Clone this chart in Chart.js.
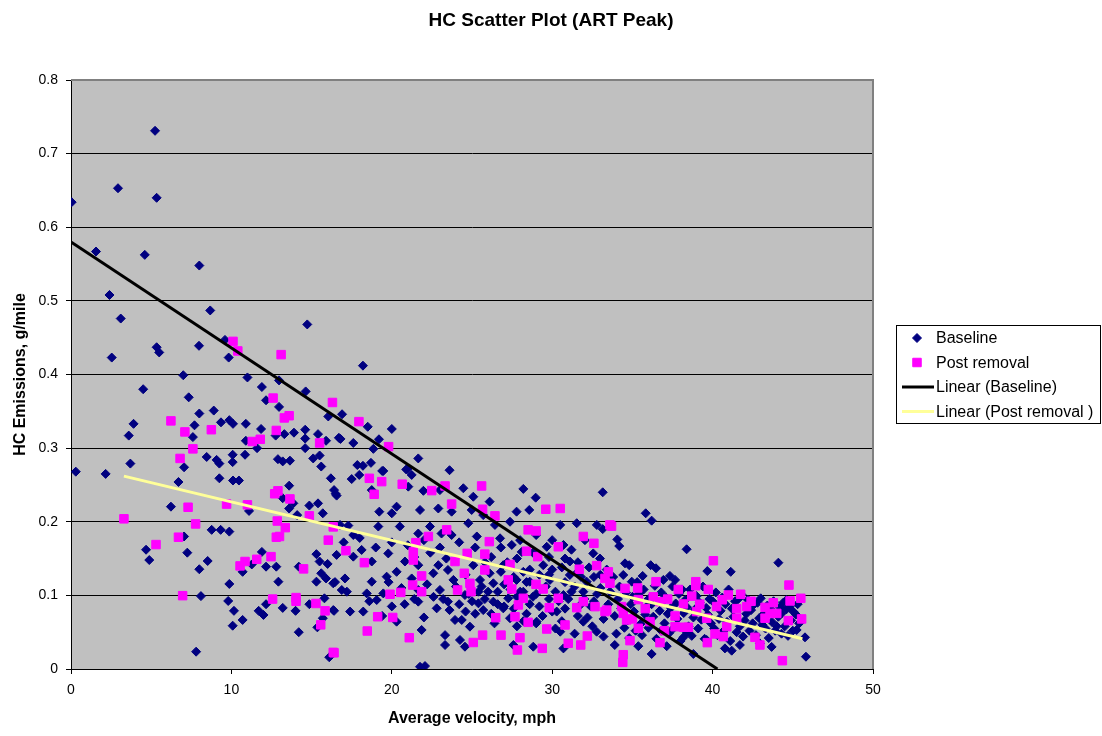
<!DOCTYPE html>
<html>
<head>
<meta charset="utf-8">
<title>HC Scatter Plot (ART Peak)</title>
<script src="https://cdn.jsdelivr.net/npm/chart.js@4.4.1/dist/chart.umd.min.js"></script>
<style>
  html, body { margin: 0; padding: 0; background: #fff; }
  canvas { display: block; }
</style>
</head>
<body>
<canvas id="hcScatter" width="1102" height="736"></canvas>
<script>
// [velocity mph, HC g/mile]
const baselinePoints = [
  [0.04,0.634],[0.3,0.268],[1.56,0.567],[2.16,0.265],[2.4,0.508],[2.54,0.423],[2.93,0.653],[3.1,0.476],
  [3.6,0.317],[3.7,0.279],[3.9,0.333],[4.5,0.380],[4.6,0.5625],[4.68,0.162],[4.88,0.148],[5.24,0.731],
  [5.34,0.640],[5.34,0.437],[5.5,0.430],[6.23,0.2205],[6.7,0.254],[7.0,0.399],[7.05,0.274],[7.05,0.180],
  [7.25,0.158],[7.34,0.369],[7.6,0.315],[7.7,0.331],[7.8,0.0235],[7.98,0.439],[8.0,0.548],[8.0,0.347],
  [8.0,0.1355],[8.1,0.099],[8.46,0.288],[8.52,0.1467],[8.68,0.487],[8.77,0.189],[8.9,0.351],[9.08,0.284],
  [9.25,0.279],[9.25,0.259],[9.33,0.189],[9.35,0.335],[9.6,0.447],[9.8,0.0924],[9.83,0.423],[9.87,0.338],
  [9.87,0.1866],[9.87,0.1155],[10.08,0.291],[10.08,0.281],[10.08,0.0588],[10.1,0.333],[10.1,0.256],[10.16,0.079],
  [10.47,0.256],[10.7,0.132],[10.7,0.0666],[10.85,0.291],[10.9,0.333],[10.9,0.310],[11.0,0.396],[11.1,0.2147],
  [11.27,0.142],[11.6,0.300],[11.7,0.079],[11.85,0.326],[11.9,0.383],[11.9,0.159],[12.0,0.0734],[12.16,0.365],
  [12.16,0.139],[12.16,0.088],[12.76,0.317],[12.8,0.139],[12.9,0.285],[12.93,0.1186],[12.97,0.356],[12.97,0.392],
  [13.2,0.282],[13.2,0.232],[13.2,0.083],[13.3,0.319],[13.6,0.249],[13.6,0.218],[13.65,0.283],[13.86,0.225],
  [13.9,0.321],[14.0,0.079],[14.1,0.209],[14.2,0.139],[14.2,0.050],[14.6,0.325],[14.6,0.313],[14.6,0.300],
  [14.63,0.377],[14.73,0.468],[14.86,0.222],[14.86,0.088],[15.1,0.286],[15.3,0.156],[15.3,0.1186],[15.36,0.0566],
  [15.4,0.319],[15.4,0.225],[15.5,0.290],[15.5,0.146],[15.6,0.275],[15.6,0.130],[15.7,0.2115],[15.7,0.069],
  [15.8,0.096],[15.9,0.310],[15.9,0.123],[16.0,0.1427],[16.04,0.343],[16.1,0.016],[16.2,0.259],[16.4,0.243],
  [16.4,0.079],[16.46,0.118],[16.5,0.238],[16.7,0.314],[16.8,0.3125],[16.9,0.346],[17.6,0.307],[17.85,0.277],
  [18.2,0.412],[18.2,0.276],[18.5,0.329],[18.7,0.280],[18.85,0.299],[19.2,0.312],[19.4,0.269],[20.0,0.326],
  [20.9,0.271],[21.65,0.286],[23.6,0.270],
  [19.47,0.269],[20.97,0.2717],[21.24,0.2636],[17.5,0.258],[17.97,0.2636],[16.56,0.2355],[18.75,0.243],
  [21.03,0.2477],[21.97,0.242],[23.0,0.243],[24.46,0.2455],[25.08,0.234],[26.1,0.2273],[28.2,0.2446],
  [28.97,0.2327],[33.15,0.240],[19.22,0.2137],[20.0,0.2115],[20.3,0.2205],[21.76,0.216],[22.9,0.218],
  [23.73,0.2137],[24.98,0.216],[25.7,0.209],[26.43,0.1957],[27.37,0.200],[27.78,0.2137],[28.57,0.216],
  [30.5,0.1957],[31.53,0.198],[32.78,0.1957],[16.77,0.1957],[17.29,0.1948],[17.6,0.182],[19.16,0.1935],
  [20.5,0.1935],[21.65,0.184],[22.38,0.1935],[23.1,0.184],[23.73,0.182],[24.77,0.198],[25.3,0.180],
  [26.75,0.1775],[27.48,0.1685],[28.1,0.159],[29.66,0.166],[30.7,0.1685],[32.04,0.175],[32.56,0.157],
  [16.56,0.155],[17.6,0.1526],[18.12,0.1617],[18.75,0.146],[19.78,0.157],[20.82,0.146],[21.65,0.141],
  [22.9,0.141],[23.5,0.1345],[25.08,0.141],[26.1,0.130],[26.95,0.141],[28.2,0.132],[29.44,0.141],
  [31.1,0.146],[32.98,0.150],[16.35,0.1164],[17.08,0.123],[18.75,0.1186],[19.68,0.1254],[20.3,0.132],
  [21.24,0.123],[22.59,0.130],[23.84,0.121],[25.5,0.121],[26.33,0.1164],[27.78,0.121],[28.6,0.1186],
  [29.86,0.121],[31.1,0.1277],[32.15,0.1186],[16.88,0.1073],[18.44,0.1027],[19.47,0.1027],[21.65,0.1073],
  [23.0,0.1073],[24.56,0.1005],[27.26,0.096],[28.2,0.105],[30.7,0.1005],[31.94,0.105],[16.35,0.080],
  [17.4,0.078],[18.22,0.078],[19.06,0.0937],[20.3,0.0643],[21.65,0.0915],[22.8,0.0824],[23.5,0.0915],
  [23.94,0.0666],[24.36,0.0666],[24.87,0.0575],[25.4,0.0892],[25.7,0.080],[26.33,0.0915],[26.95,0.0824],
  [27.37,0.069],[29.03,0.0643],[30.28,0.078],[30.5,0.0507],[31.94,0.0643],[32.77,0.0507],[21.86,0.053],
  [23.32,0.046],[23.32,0.0326],[24.25,0.0394],[24.56,0.0303],[27.58,0.0326],[28.82,0.0303],[30.7,0.028],
  [21.76,0.003],[22.07,0.004],
  [35.83,0.2115],[36.2,0.2015],[33.15,0.190],[34.06,0.176],[34.18,0.167],[38.38,0.1626],[44.1,0.1444],
  [39.67,0.133],[41.13,0.132],[34.54,0.1435],[34.8,0.141],[36.14,0.141],[36.47,0.1368],[35.64,0.1264],
  [37.34,0.1264],[34.43,0.1277],[34.96,0.1186],[36.93,0.121],[37.66,0.121],[45.76,0.043],[45.82,0.0167],
  [45.03,0.078],[45.24,0.053],[44.3,0.0755],[44.6,0.0937],[43.68,0.030],[42.95,0.0348],[41.7,0.0326],
  [41.19,0.0249],[40.77,0.028],[38.8,0.0204],[36.2,0.0204],[33.9,0.0326],[33.2,0.044],[35.37,0.031],
  [37.14,0.031],[38.18,0.043],[39.63,0.0394],
  [33.8,0.125],[34.2,0.112],[34.6,0.104],[35.0,0.098],[35.3,0.118],[35.7,0.108],[36.0,0.095],[36.4,0.113],
  [36.8,0.104],[37.1,0.097],[37.5,0.112],[37.9,0.102],[38.3,0.094],[38.6,0.108],[39.0,0.099],[39.4,0.112],
  [39.8,0.095],[40.2,0.104],[40.6,0.097],[41.0,0.108],[41.4,0.092],[41.8,0.101],[42.2,0.094],[42.6,0.088],
  [43.0,0.096],[43.4,0.086],[43.8,0.092],[44.2,0.084],[44.6,0.081],[45.2,0.074],
  [33.5,0.088],[33.9,0.072],[34.3,0.082],[34.7,0.066],[35.1,0.078],[35.5,0.061],[35.9,0.085],[36.3,0.071],
  [36.7,0.079],[37.0,0.062],[37.4,0.083],[37.8,0.068],[38.2,0.076],[38.5,0.058],[38.9,0.081],[39.3,0.067],
  [39.7,0.074],[40.1,0.055],[40.5,0.079],[40.9,0.064],[41.3,0.071],[41.7,0.058],[42.1,0.075],[42.5,0.062],
  [42.9,0.069],[43.3,0.055],[43.7,0.064],[44.1,0.071],[44.5,0.058],[44.9,0.066],[45.4,0.062],
  [34.0,0.048],[34.8,0.042],[35.6,0.046],[36.5,0.041],[37.3,0.049],[38.0,0.038],[38.7,0.045],[39.5,0.041],
  [40.3,0.046],[41.1,0.038],[41.9,0.044],[42.7,0.046],[43.5,0.042],[44.3,0.048],[45.0,0.052],
  [24.2,0.088],[24.8,0.102],[25.2,0.075],[26.0,0.105],[26.6,0.088],[27.0,0.115],[27.6,0.082],[28.0,0.105],
  [28.4,0.075],[28.8,0.098],[29.2,0.085],[29.6,0.112],[30.0,0.078],[30.4,0.092],[30.8,0.082],[31.2,0.105],
  [31.6,0.072],[32.0,0.095],[32.4,0.085],[32.8,0.102],[33.2,0.068],[29.0,0.062],[30.2,0.055],[31.4,0.048],
  [32.5,0.058],[27.8,0.058],[26.4,0.062],[25.6,0.112],[23.2,0.095],[22.2,0.115],[20.8,0.088],[19.8,0.118],
  [18.6,0.092],[17.2,0.105],[28.6,0.135],[29.8,0.128],[30.6,0.138],[31.8,0.125],[32.3,0.138],[27.2,0.145],
  [26.2,0.152],[25.2,0.165],[24.2,0.172],[23.0,0.165],[22.0,0.175],[21.0,0.168],[20.0,0.172],[19.0,0.165],
  [18.0,0.178],[17.0,0.172],[31.2,0.162],[30.0,0.175],[29.0,0.182],[28.0,0.175],
  [33.6,0.105],[34.1,0.095],[34.9,0.088],[35.4,0.102],[35.8,0.074],[36.2,0.088],[36.9,0.092],[37.2,0.075],
  [37.7,0.089],[38.1,0.108],[38.4,0.084],[38.8,0.070],[39.2,0.090],[39.6,0.083],[40.0,0.092],[40.4,0.068],
  [40.8,0.088],[41.2,0.082],[41.6,0.095],[42.0,0.066],[42.4,0.080],[42.8,0.090],[43.2,0.075],[43.6,0.082],
  [44.0,0.058],[44.4,0.090],[44.8,0.085],[45.3,0.088],[34.5,0.056],[35.2,0.052],[36.0,0.056],[36.8,0.052],
  [37.6,0.056],[38.4,0.050],[39.1,0.055],[39.9,0.062],[40.7,0.052],[41.5,0.050],[42.3,0.052],[43.1,0.060],
  [43.9,0.052],[44.7,0.045],[33.0,0.110],[32.6,0.092],[32.2,0.070],[31.8,0.088],[31.4,0.112],[31.0,0.095],
  [30.6,0.065],[30.2,0.105],[29.8,0.095],[29.4,0.072],[29.0,0.102],[28.6,0.088],[28.2,0.065],[27.8,0.098],
  [27.4,0.108],[27.0,0.085],[26.6,0.105],[26.2,0.075],[25.8,0.095],[25.4,0.105],[25.0,0.092],[24.6,0.078],
  [24.0,0.112],[23.6,0.080],[22.6,0.098],[22.0,0.070],[21.4,0.095],[20.6,0.110],[20.0,0.085],[19.4,0.072],
  [26.8,0.132],[27.6,0.125],[28.4,0.118],[29.2,0.128],[30.0,0.135],[30.8,0.118],[31.6,0.132],[32.6,0.125],
  [33.4,0.135],[24.6,0.128],[23.4,0.150],[22.4,0.158],[21.4,0.152],[25.8,0.145],[26.8,0.165],[27.8,0.150],
  [28.8,0.158],[29.8,0.152],[30.8,0.150],[31.6,0.145],[33.0,0.128]
];

const postRemovalPoints = [
  [3.3,0.204],[5.3,0.169],[6.23,0.337],[6.7,0.179],[6.8,0.286],[6.96,0.0996],[7.1,0.322],[7.3,0.2197],
  [7.6,0.299],[7.77,0.197],[8.75,0.325],[9.7,0.224],[10.1,0.445],[10.4,0.432],[10.54,0.140],[10.85,0.146],
  [11.0,0.223],[11.3,0.309],[11.58,0.149],[11.8,0.312],[12.47,0.1526],[12.57,0.095],[12.6,0.368],[12.7,0.238],
  [12.8,0.324],[12.8,0.179],[12.86,0.201],[12.9,0.242],[13.0,0.180],[13.1,0.427],[13.3,0.341],[13.36,0.192],
  [13.6,0.344],[13.65,0.231],[14.03,0.097],[14.03,0.092],[14.5,0.136],[14.86,0.208],[15.27,0.089],[15.5,0.307],
  [15.57,0.060],[15.84,0.079],[16.04,0.175],[16.3,0.362],[16.35,0.193],[16.4,0.022],[17.95,0.336],[19.8,0.302],
  [18.6,0.259],[19.37,0.2545],[18.9,0.2373],[20.65,0.251],[22.49,0.2423],[23.32,0.2486],[25.6,0.2486],
  [23.73,0.224],[25.66,0.217],[26.43,0.208],[29.6,0.217],[30.5,0.218],[23.42,0.189],[22.28,0.180],
  [21.5,0.1716],[28.5,0.189],[29.0,0.1875],[31.94,0.180],[32.6,0.1707],[33.6,0.1957],[17.14,0.1607],
  [18.29,0.1444],[21.34,0.159],[21.34,0.148],[24.7,0.157],[25.8,0.156],[26.08,0.173],[28.4,0.160],
  [29.1,0.1526],[30.38,0.166],[23.94,0.146],[25.8,0.1345],[27.37,0.142],[21.86,0.1264],[24.52,0.130],
  [24.87,0.1164],[27.26,0.121],[27.48,0.1087],[28.99,0.115],[29.44,0.1087],[31.69,0.1355],[32.77,0.1404],
  [33.29,0.123],[21.3,0.114],[21.86,0.105],[24.1,0.1073],[24.94,0.105],[19.89,0.1015],[20.56,0.104],
  [28.2,0.096],[27.89,0.087],[30.38,0.096],[29.82,0.0833],[31.53,0.0833],[31.94,0.0915],[32.67,0.0847],
  [33.29,0.078],[19.12,0.071],[20.06,0.070],[26.48,0.0697],[27.68,0.071],[28.5,0.0634],[30.8,0.0598],
  [29.66,0.0543],[18.47,0.0516],[21.09,0.0425],[25.66,0.046],[26.81,0.046],[25.08,0.036],[27.99,0.0425],
  [31.0,0.035],[32.19,0.0448],[31.78,0.0326],[27.83,0.0258],[29.38,0.028],[16.35,0.0226],
  [33.7,0.194],[40.05,0.147],[44.76,0.114],[44.83,0.0924],[45.5,0.096],[45.55,0.068],[44.35,0.0113],
  [34.43,0.0194],[34.4,0.009],[36.47,0.1186],[38.95,0.1186],[38.95,0.113],[39.73,0.108],[41.75,0.1015],
  [40.98,0.1005],[37.86,0.108],[35.33,0.110],[34.54,0.1095],[33.5,0.132],[33.6,0.1164],[43.78,0.090],
  [43.27,0.0837],[44.0,0.0755],[43.27,0.069],[44.72,0.0657],[42.64,0.043],[42.95,0.0326],[41.5,0.069],
  [40.67,0.044],[40.15,0.0476],[39.67,0.0358],[38.49,0.0567],[37.66,0.0575],[36.72,0.0358],[35.37,0.0553],
  [34.85,0.0385],[39.63,0.069],[40.25,0.0848],[38.7,0.099],[38.18,0.0883],[36.72,0.0915],[36.3,0.098],
  [34.33,0.0848],[33.4,0.080],[36.1,0.0643],[37.66,0.072],[41.5,0.082],[42.12,0.0848],[43.58,0.0755],
  [40.88,0.0575],[38.18,0.0567],[34.64,0.0666],[35.37,0.0943],[34.43,0.0755],
  [35.8,0.082],[37.2,0.095],[39.2,0.088],[40.6,0.094],[42.4,0.092],[35.0,0.068],[37.0,0.052],[39.0,0.078]
];

// end points of the Excel linear trendlines
const baselineTrend = [[0, 0.58], [40.3, 0]];
const postRemovalTrend = [[3.3, 0.262], [45.6, 0.041]];

const chartTitle = 'HC Scatter Plot (ART Peak)';
const seriesLabels = ['Baseline', 'Post removal', 'Linear (Baseline)', 'Linear (Post removal )'];
const xTicks = [0, 10, 20, 30, 40, 50];
const yTicks = [0, 0.1, 0.2, 0.3, 0.4, 0.5, 0.6, 0.7, 0.8];

const toXY = (pts) => pts.map(([x, y]) => ({ x, y }));
const FONT = "'Liberation Sans', Arial, sans-serif";

// grey plot area, grey frame on top/right, title centred on the whole page
const plotFrame = {
  id: 'plotFrame',
  beforeDraw(chart) {
    const { ctx, chartArea: a } = chart;
    ctx.save();
    ctx.fillStyle = '#C0C0C0';
    ctx.fillRect(a.left, a.top, a.right - a.left, a.bottom - a.top);
    ctx.restore();
  },
  afterDatasetsDraw(chart) {
    const { ctx, chartArea: a } = chart;
    ctx.save();
    ctx.strokeStyle = '#808080';
    ctx.lineWidth = 2;
    ctx.beginPath();
    ctx.moveTo(a.left, a.top);
    ctx.lineTo(a.right, a.top);
    ctx.lineTo(a.right, a.bottom);
    ctx.stroke();
    ctx.restore();
  },
  afterDraw(chart) {
    const { ctx } = chart;
    ctx.save();
    ctx.font = 'bold 19px ' + FONT;
    ctx.fillStyle = '#000';
    ctx.textAlign = 'center';
    ctx.textBaseline = 'middle';
    ctx.fillText(chartTitle, chart.width / 2, 21);
    ctx.restore();
  }
};

// boxed legend at the right, Excel style
const boxLegend = {
  id: 'boxLegend',
  afterDraw(chart) {
    const { ctx } = chart;
    const left = 896, top = 325, w = 204, h = 98;
    ctx.save();
    ctx.strokeStyle = '#000';
    ctx.lineWidth = 1;
    ctx.strokeRect(left + 0.5, top + 0.5, w, h);
    ctx.font = '16px ' + FONT;
    ctx.textBaseline = 'middle';
    chart.data.datasets.forEach((ds, i) => {
      const y = top + 13 + i * 24.5;
      if (ds.showLine) {
        ctx.strokeStyle = ds.borderColor;
        ctx.lineWidth = ds.borderWidth;
        ctx.beginPath();
        ctx.moveTo(902, y);
        ctx.lineTo(934, y);
        ctx.stroke();
      } else {
        ctx.fillStyle = ds.backgroundColor;
        ctx.strokeStyle = ds.borderColor;
        ctx.lineWidth = 1;
        Chart.helpers.drawPoint(ctx, {
          pointStyle: ds.pointStyle, radius: ds.pointRadius, borderWidth: 1, rotation: 0
        }, 917, y);
      }
      ctx.fillStyle = '#000';
      ctx.fillText(ds.label, 936, y + 1);
    });
    ctx.restore();
  }
};

const ctx = document.getElementById('hcScatter');
new Chart(ctx, {
  type: 'scatter',
  data: {
    datasets: [
      {
        label: seriesLabels[0],
        data: toXY(baselinePoints),
        pointStyle: 'rectRot',
        pointRadius: 4.5,
        backgroundColor: '#000080',
        borderColor: '#000080',
        borderWidth: 1,
        order: 4
      },
      {
        label: seriesLabels[1],
        data: toXY(postRemovalPoints),
        pointStyle: 'rect',
        pointRadius: 6,
        backgroundColor: '#FF00FF',
        borderColor: '#FF00FF',
        borderWidth: 1,
        order: 3
      },
      {
        label: seriesLabels[2],
        data: toXY(baselineTrend),
        showLine: true,
        pointRadius: 0,
        borderColor: '#000000',
        borderWidth: 3,
        order: 2
      },
      {
        label: seriesLabels[3],
        data: toXY(postRemovalTrend),
        showLine: true,
        pointRadius: 0,
        borderColor: '#FFFF99',
        borderWidth: 3,
        order: 1
      }
    ]
  },
  options: {
    responsive: false,
    animation: false,
    devicePixelRatio: 1,
    layout: { padding: { left: 0, right: 229, top: 80, bottom: 0 } },
    plugins: {
      legend: { display: false },
      tooltip: { enabled: false },
      title: { display: false }
    },
    scales: {
      x: {
        type: 'linear',
        min: xTicks[0],
        max: xTicks[xTicks.length - 1],
        afterBuildTicks: (scale) => { scale.ticks = xTicks.map(v => ({ value: v })); },
        afterFit: (scale) => { scale.height = 67; },
        ticks: { color: '#000', font: { family: FONT, size: 14 }, padding: 8, maxRotation: 0 },
        grid: { drawOnChartArea: false, drawTicks: true, tickLength: 5, color: '#000' },
        border: { display: true, color: '#000', width: 1 },
        title: {
          display: true,
          text: 'Average velocity, mph',
          color: '#000',
          font: { family: FONT, size: 16, weight: 'bold' },
          padding: { top: 4, bottom: 8 }
        }
      },
      y: {
        type: 'linear',
        min: yTicks[0],
        max: yTicks[yTicks.length - 1],
        afterBuildTicks: (scale) => { scale.ticks = yTicks.map(v => ({ value: v })); },
        afterFit: (scale) => { scale.width = 71; },
        ticks: {
          color: '#000',
          font: { family: FONT, size: 14 },
          padding: 8,
          callback: (v) => String(Math.round(v * 10) / 10)
        },
        grid: { color: '#000', lineWidth: 1, tickLength: 5 },
        border: { display: true, color: '#000', width: 1 },
        title: {
          display: true,
          text: 'HC Emissions, g/mile',
          color: '#000',
          font: { family: FONT, size: 16, weight: 'bold' },
          padding: { top: 11, bottom: 4 }
        }
      }
    }
  },
  plugins: [plotFrame, boxLegend]
});
</script>
</body>
</html>
